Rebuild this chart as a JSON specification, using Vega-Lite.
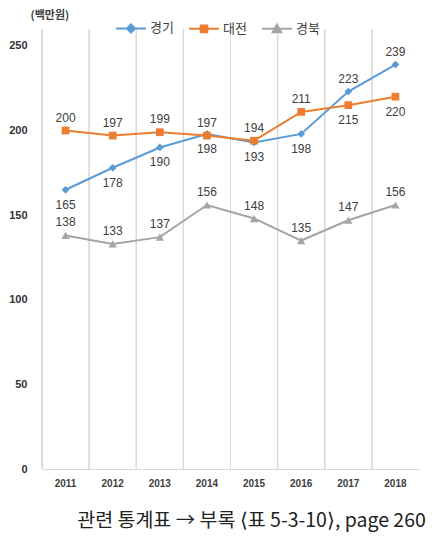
{
  "$schema": "https://vega.github.io/schema/vega-lite/v6.json",
  "width": 377,
  "height": 440,
  "autosize": "none",
  "padding": {"left": 42, "top": 29, "right": 26, "bottom": 69},
  "background": "white",
  "config": {"view": {"stroke": null}, "font": "Liberation Sans"},
  "data": {
    "values": [
      {"year": 2011, "series": "경기", "value": 165},
      {"year": 2012, "series": "경기", "value": 178},
      {"year": 2013, "series": "경기", "value": 190},
      {"year": 2014, "series": "경기", "value": 198},
      {"year": 2015, "series": "경기", "value": 193},
      {"year": 2016, "series": "경기", "value": 198},
      {"year": 2017, "series": "경기", "value": 223},
      {"year": 2018, "series": "경기", "value": 239},
      {"year": 2011, "series": "대전", "value": 200},
      {"year": 2012, "series": "대전", "value": 197},
      {"year": 2013, "series": "대전", "value": 199},
      {"year": 2014, "series": "대전", "value": 197},
      {"year": 2015, "series": "대전", "value": 194},
      {"year": 2016, "series": "대전", "value": 211},
      {"year": 2017, "series": "대전", "value": 215},
      {"year": 2018, "series": "대전", "value": 220},
      {"year": 2011, "series": "경북", "value": 138},
      {"year": 2012, "series": "경북", "value": 133},
      {"year": 2013, "series": "경북", "value": 137},
      {"year": 2014, "series": "경북", "value": 156},
      {"year": 2015, "series": "경북", "value": 148},
      {"year": 2016, "series": "경북", "value": 135},
      {"year": 2017, "series": "경북", "value": 147},
      {"year": 2018, "series": "경북", "value": 156}
    ]
  },
  "layer": [
    {
      "mark": {"type": "rule", "color": "#D9D9D9", "strokeWidth": 1},
      "encoding": {
        "x": {
          "field": "year", "type": "ordinal", "bandPosition": 0,
          "scale": {"type": "band", "paddingInner": 0, "paddingOuter": 0},
          "axis": {
            "labelFont": "Liberation Sans", "labelFontSize": 10, "labelFontWeight": "bold",
            "labelColor": "#404040", "labelAngle": 0, "labelPadding": 9,
            "ticks": false, "tickSize": 0, "grid": false,
            "domainColor": "#D9D9D9", "domainWidth": 1,
            "title": "관련 통계표 → 부록 ⟨표 5-3-10⟩, page 260",
            "titleFont": "Noto Sans CJK KR", "titleFontSize": 19.5, "titleFontWeight": "normal",
            "titleColor": "#222222", "titleX": 209, "titleY": 57,
            "titleAlign": "center", "titleBaseline": "alphabetic"
          }
        }
      }
    },
    {
      "mark": {"type": "line", "strokeWidth": 2},
      "encoding": {
        "x": {"field": "year", "type": "ordinal"},
        "y": {
          "field": "value", "type": "quantitative",
          "scale": {"domain": [0, 250]},
          "axis": {
            "values": [0, 50, 100, 150, 200, 250],
            "domain": false, "ticks": false, "grid": false,
            "labelFont": "Liberation Sans", "labelFontSize": 11, "labelFontWeight": "bold",
            "labelColor": "#333333", "labelPadding": 15,
            "title": "(백만원)", "titleAngle": 0, "titleX": -12, "titleY": -14,
            "titleAlign": "left", "titleBaseline": "middle",
            "titleFont": "Noto Sans CJK KR", "titleFontSize": 11, "titleFontWeight": "bold",
            "titleColor": "#404040"
          }
        },
        "color": {
          "field": "series", "type": "nominal",
          "scale": {"domain": ["경기", "대전", "경북"], "range": ["#5B9BD5", "#ED7D31", "#A5A5A5"]},
          "legend": {
            "title": null, "orient": "none", "legendX": 73, "legendY": -17,
            "direction": "horizontal", "columns": 3,
            "symbolSize": 900, "symbolStrokeWidth": 2,
            "labelFont": "Noto Sans CJK KR", "labelFontSize": 13, "labelColor": "#404040",
            "labelOffset": 3, "columnPadding": 11,
            "encode": {
              "symbols": {
                "update": {
                  "shape": {"signal": "datum.value === '경기' ? 'M-1,0H1M0,-0.27L0.27,0L0,0.27L-0.27,0Z' : datum.value === '대전' ? 'M-1,0H1M-0.22,-0.22H0.22V0.22H-0.22Z' : 'M-1,0H1M0,-0.28L0.28,0.22H-0.28Z'"},
                  "fill": {"signal": "scale('color', datum.value)"},
                  "stroke": {"signal": "scale('color', datum.value)"},
                  "strokeWidth": {"value": 2},
                  "opacity": {"value": 1}
                }
              }
            }
          }
        }
      }
    },
    {
      "transform": [{"filter": "datum.series === '경기'"}],
      "mark": {"type": "point", "filled": true, "size": 60, "opacity": 1, "shape": "diamond"},
      "encoding": {
        "x": {"field": "year", "type": "ordinal"},
        "y": {"field": "value", "type": "quantitative"},
        "color": {"field": "series", "type": "nominal"}
      }
    },
    {
      "transform": [{"filter": "datum.series === '대전'"}],
      "mark": {"type": "point", "filled": true, "size": 60, "opacity": 1, "shape": "square"},
      "encoding": {
        "x": {"field": "year", "type": "ordinal"},
        "y": {"field": "value", "type": "quantitative"},
        "color": {"field": "series", "type": "nominal"}
      }
    },
    {
      "transform": [{"filter": "datum.series === '경북'"}],
      "mark": {"type": "point", "filled": true, "size": 70, "opacity": 1, "shape": "triangle-up"},
      "encoding": {
        "x": {"field": "year", "type": "ordinal"},
        "y": {"field": "value", "type": "quantitative"},
        "color": {"field": "series", "type": "nominal"}
      }
    },
    {
      "transform": [
        {"filter": "datum.series === '경북' || (datum.series === '경기' && datum.year >= 2017) || (datum.series === '대전' && datum.year <= 2016)"}
      ],
      "mark": {"type": "text", "dy": -13, "fontSize": 12, "color": "#404040", "font": "Liberation Sans"},
      "encoding": {
        "x": {"field": "year", "type": "ordinal"},
        "y": {"field": "value", "type": "quantitative"},
        "text": {"field": "value", "type": "quantitative", "format": "d"}
      }
    },
    {
      "transform": [
        {"filter": "(datum.series === '경기' && datum.year <= 2016) || (datum.series === '대전' && datum.year >= 2017)"}
      ],
      "mark": {"type": "text", "dy": 15, "fontSize": 12, "color": "#404040", "font": "Liberation Sans"},
      "encoding": {
        "x": {"field": "year", "type": "ordinal"},
        "y": {"field": "value", "type": "quantitative"},
        "text": {"field": "value", "type": "quantitative", "format": "d"}
      }
    }
  ]
}
